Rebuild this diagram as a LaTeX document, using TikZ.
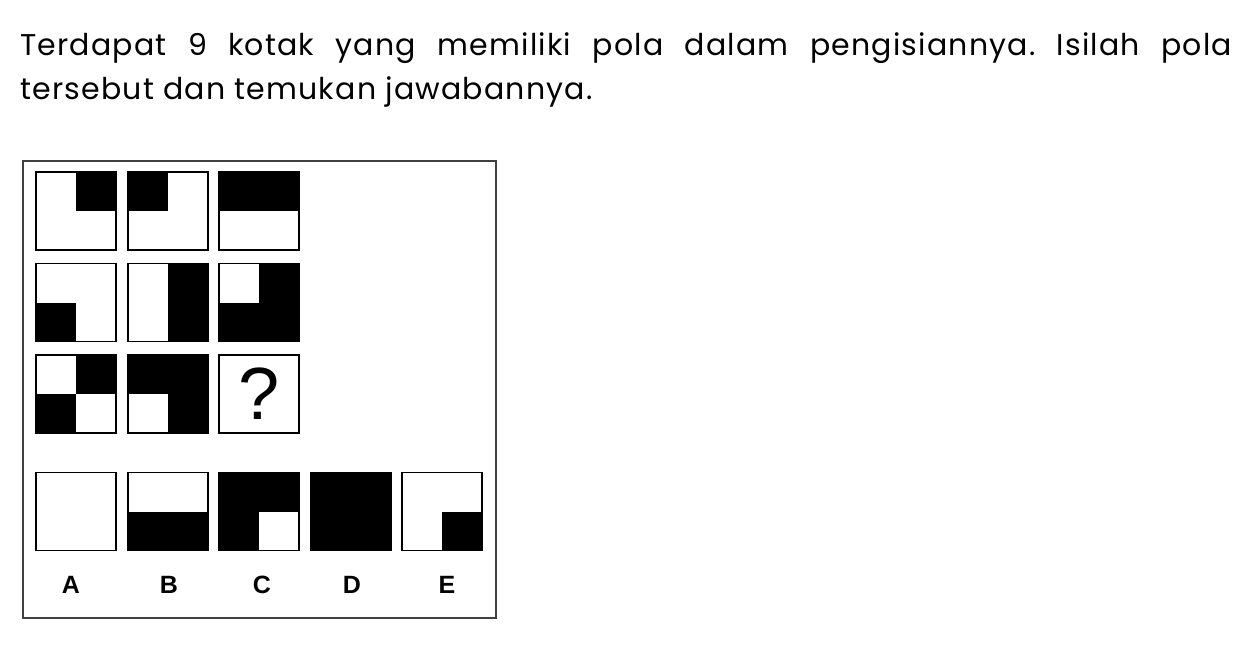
\documentclass[tikz,border=0pt]{standalone}
\usepackage{fontspec}
\setmainfont{Poppins}[LetterSpace=4]
\newfontfamily\arialf{Liberation Sans}
\frenchspacing
\begin{document}
\begin{tikzpicture}[x=1pt,y=-1pt,
  cell/.style={draw=black,line width=1.4pt,minimum width=80pt,minimum height=78pt,inner sep=0pt,outer sep=0pt,fill=white},
  frame/.style={draw=black!75,line width=1.4pt},
  heading/.style={inner sep=0pt,anchor=base west,font=\fontsize{30}{36}\selectfont},
  optlabel/.style={inner sep=0pt,anchor=base,font=\arialf\bfseries\fontsize{25}{28}\selectfont}]
\useasboundingbox (0,0) rectangle (1255,653);
% heading text
\node[heading] (t1) at (20,55) {\makebox[1212pt][s]{Terdapat 9 kotak yang memiliki pola dalam pengisiannya. Isilah pola}};
\node[heading] (t2) at (20,99) {tersebut dan temukan jawabannya.};
% outer frame
\draw[frame] (23,161) rectangle (496,618);
% grid cells
\node[cell] (b11) at (76,211) {};
\node[cell] (b12) at (168,211) {};
\node[cell] (b13) at (259,211) {};
\node[cell] (b21) at (76,302.5) {};
\node[cell] (b22) at (168,302.5) {};
\node[cell] (b23) at (259,302.5) {};
\node[cell] (b31) at (76,394) {};
\node[cell] (b32) at (168,394) {};
\node[cell,font=\arialf\fontsize{74}{80}\selectfont] (b33) at (259,394) {?};
% answer cells
\node[cell] (oa) at (76,511.5) {};
\node[cell] (ob) at (168,511.5) {};
\node[cell] (oc) at (259,511.5) {};
\node[cell] (od) at (351,511.5) {};
\node[cell] (oe) at (442,511.5) {};
% black fills
\fill (b11.center) rectangle (b11.north east);
\fill (b12.north west) rectangle (b12.center);
\fill (b13.north west) rectangle (b13.east);
\fill (b21.west) rectangle (b21.south);
\fill (b22.north) rectangle (b22.south east);
\fill (b23.center) rectangle (b23.north east);
\fill (b23.west) rectangle (b23.south east);
\fill (b31.center) rectangle (b31.north east);
\fill (b31.west) rectangle (b31.south);
\fill (b32.north west) rectangle (b32.east);
\fill (b32.center) rectangle (b32.south east);
\fill (ob.west) rectangle (ob.south east);
\fill (oc.north west) rectangle (oc.east);
\fill (oc.west) rectangle (oc.south);
\fill (od.north west) rectangle (od.south east);
\fill (oe.center) rectangle (oe.south east);
% labels
\node[optlabel] (la) at (71,593) {A};
\node[optlabel] (lb) at (169,593) {B};
\node[optlabel] (lc) at (262,593) {C};
\node[optlabel] (ld) at (352,593) {D};
\node[optlabel] (le) at (447,593) {E};
\end{tikzpicture}
\end{document}
